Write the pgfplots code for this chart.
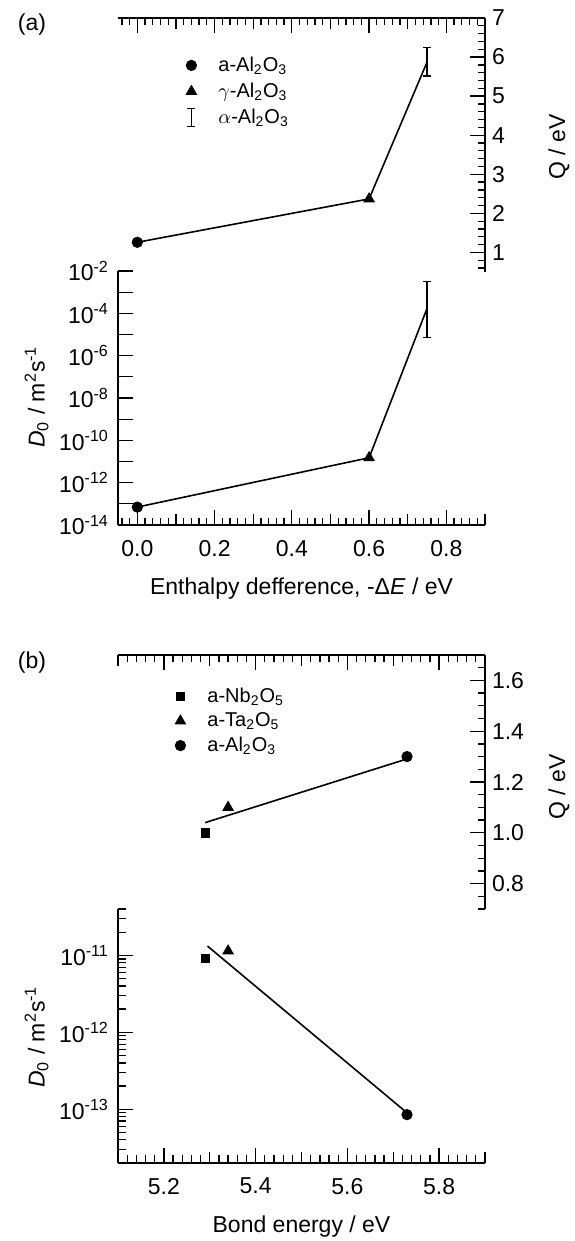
\documentclass[border=0pt]{standalone}
\usepackage{fontspec}
\setmainfont{Liberation Sans}
\usepackage{pgfplots}
\pgfplotsset{compat=1.18}

% shared look of the four sub-axes
\pgfplotsset{
  panel/.style={
    scale only axis, width=183.5pt, height=127pt,
    axis line style={-, line width=0.9pt},
    every tick/.style={black, line width=0.65pt},
    tick align=inside,
    major tick length=7.5pt, minor tick length=3.3pt,
    tick label style={font=\fontsize{11.5}{13}\selectfont},
    /pgf/number format/assume math mode=true,
    extra x tick style={major tick length=5.5pt},
    extra x tick labels={},
  },
  upper/.style={panel, axis x line*=top, axis y line*=right, xticklabel=\empty,
    legend cell align=left,
    legend image code/.code={\draw[##1] plot coordinates {(0pt,0pt)};
      \path[draw=none, fill=none] (-4pt,-5pt) rectangle (4pt,5pt);},
    legend style={draw=none, fill=none, inner sep=0pt,
      font=\fontsize{10}{12}\selectfont, nodes={inner sep=0pt},
      /tikz/every odd column/.append style={column sep=9.5pt}, anchor=north west},
  },
  lower/.style={panel, axis x line*=bottom, axis y line*=left,
    xticklabel style={yshift=-4pt},
    yticklabel style={xshift=-1pt},
  },
  errbar/.style={black, line width=0.7pt, mark=-, mark size=2pt, mark options={solid}},
  errlegend/.style={legend image code/.code={
      \draw[black, line width=0.7pt] (0pt,-4.5pt) -- (0pt,4.5pt)
        (-2pt,-4.5pt) -- (2pt,-4.5pt) (-2pt,4.5pt) -- (2pt,4.5pt);
      \path[draw=none, fill=none] (-4pt,-5pt) rectangle (4pt,5pt);}},
}

\begin{document}
\begin{tikzpicture}
\useasboundingbox (0pt,0pt) rectangle (287pt,620.5pt);

% ---------------- (a) activation energy ----------------
\begin{axis}[upper, at={(59pt,484.5pt)}, anchor=south west,
  xmin=-0.05, xmax=0.9, ymin=0.5, ymax=7,
  xtick={0,0.2,0.4,0.6,0.8}, extra x ticks={0.1,0.3,0.5,0.7,0.9},
  minor xtick={-0.04,-0.02,...,0.9},
  ytick={1,2,3,4,5,6,7}, minor ytick={0.6,0.8,...,6.8},
  legend style={at={(rel axis cs:0,1)}, xshift=32.5pt, yshift=-18.5pt, row sep=3pt},
]
\addplot[black, line width=0.8pt, forget plot] coordinates {(0,1.26) (0.6,2.37) (0.75,5.87)};
\addplot[only marks, mark=*, mark size=2.6pt] coordinates {(0,1.26)};
\addlegendentry{a-Al\textsubscript{2}O\textsubscript{3}}
\addplot[only marks, mark=triangle*, mark size=3pt] coordinates {(0.6,2.37)};
\addlegendentry{$\gamma$-Al\textsubscript{2}O\textsubscript{3}}
\addplot[errbar, errlegend] coordinates {(0.75,5.52) (0.75,6.24)};
\addlegendentry{$\alpha$-Al\textsubscript{2}O\textsubscript{3}}
\end{axis}

% ---------------- (a) pre-exponential factor ----------------
\begin{axis}[lower, ymode=log, at={(59pt,358pt)}, anchor=south west,
  xmin=-0.05, xmax=0.9, ymin=1e-14, ymax=1e-2,
  xtick={0,0.2,0.4,0.6,0.8}, extra x ticks={0.1,0.3,0.5,0.7,0.9},
  minor xtick={-0.04,-0.02,...,0.9},
  xticklabel style={/pgf/number format/.cd, fixed, fixed zerofill, precision=1},
  ytick={1e-14,1e-13,1e-12,1e-11,1e-10,1e-9,1e-8,1e-7,1e-6,1e-5,1e-4,1e-3,1e-2},
  yticklabels={10\textsuperscript{-14},,10\textsuperscript{-12},,10\textsuperscript{-10},,10\textsuperscript{-8},,10\textsuperscript{-6},,10\textsuperscript{-4},,10\textsuperscript{-2}},
  yminorticks=false,
]
\addplot[black, line width=0.8pt] coordinates {(0,7e-14) (0.6,1.5e-11) (0.75,1.7e-4)};
\addplot[only marks, mark=*, mark size=2.6pt] coordinates {(0,7e-14)};
\addplot[only marks, mark=triangle*, mark size=3pt] coordinates {(0.6,1.5e-11)};
\addplot[errbar] coordinates {(0.75,7e-6) (0.75,3.2e-3)};
\end{axis}

% ---------------- (b) activation energy ----------------
\begin{axis}[upper, at={(59pt,166pt)}, anchor=south west,
  xmin=5.1, xmax=5.9, ymin=0.7, ymax=1.7,
  xtick={5.2,5.4,5.6,5.8}, extra x ticks={5.1,5.3,5.5,5.7,5.9},
  minor xtick={5.12,5.14,...,5.89},
  ytick={0.8,1.0,1.2,1.4,1.6}, minor ytick={0.7,0.75,...,1.7},
  yticklabel style={/pgf/number format/.cd, fixed, fixed zerofill, precision=1},
  legend style={at={(rel axis cs:0,1)}, xshift=27pt, yshift=-15.5pt, row sep=2.3pt},
]
\addplot[black, line width=0.8pt, forget plot] coordinates {(5.29,1.04) (5.725,1.288)};
\addplot[only marks, mark=square*, mark size=2.1pt] coordinates {(5.29,1.0)};
\addlegendentry{a-Nb\textsubscript{2}O\textsubscript{5}}
\addplot[only marks, mark=triangle*, mark size=3pt] coordinates {(5.34,1.1)};
\addlegendentry{a-Ta\textsubscript{2}O\textsubscript{5}}
\addplot[only marks, mark=*, mark size=2.6pt] coordinates {(5.73,1.30)};
\addlegendentry{a-Al\textsubscript{2}O\textsubscript{3}}
\end{axis}

% ---------------- (b) pre-exponential factor ----------------
\begin{axis}[lower, ymode=log, at={(59pt,39pt)}, anchor=south west,
  xmin=5.1, xmax=5.9, ymin=2e-14, ymax=4e-11,
  xtick={5.2,5.4,5.6,5.8}, extra x ticks={5.1,5.3,5.5,5.7,5.9},
  minor xtick={5.12,5.14,...,5.89},
  xticklabel style={/pgf/number format/.cd, fixed, fixed zerofill, precision=1},
  ytick={1e-13,1e-12,1e-11},
  yticklabels={10\textsuperscript{-13},10\textsuperscript{-12},10\textsuperscript{-11}},
  minor ytick={2e-14,3e-14,4e-14,5e-14,6e-14,7e-14,8e-14,9e-14,
    2e-13,3e-13,4e-13,5e-13,6e-13,7e-13,8e-13,9e-13,
    2e-12,3e-12,4e-12,5e-12,6e-12,7e-12,8e-12,9e-12,
    2e-11,3e-11,4e-11},
  minor tick length=4pt,
]
\addplot[black, line width=0.8pt] coordinates {(5.295,1.32e-11) (5.727,9.3e-14)};
\addplot[only marks, mark=square*, mark size=2.1pt] coordinates {(5.29,9.2e-12)};
\addplot[only marks, mark=triangle*, mark size=3pt] coordinates {(5.34,1.14e-11)};
\addplot[only marks, mark=*, mark size=2.6pt] coordinates {(5.73,8.5e-14)};
\end{axis}

% panel tags and axis titles
\begin{scope}[font=\fontsize{11.5}{13}\selectfont]
\node at (16pt,608pt) {(a)};
\node at (16pt,289pt) {(b)};
\node[rotate=90] at (279.5pt,547pt) {Q / eV};
\node[rotate=90] at (279.5pt,227pt) {Q / eV};
\node[rotate=90] at (18.3pt,422pt) {\textit{D}\textsubscript{0} / m\textsuperscript{2}s\textsuperscript{-1}};
\node[rotate=90] at (18.3pt,102pt) {\textit{D}\textsubscript{0} / m\textsuperscript{2}s\textsuperscript{-1}};
\node at (150.75pt,326.3pt) {Enthalpy defference, -Δ\textit{E} / eV};
\node at (150.75pt,7pt) {Bond energy / eV};
\end{scope}
\end{tikzpicture}
\end{document}
